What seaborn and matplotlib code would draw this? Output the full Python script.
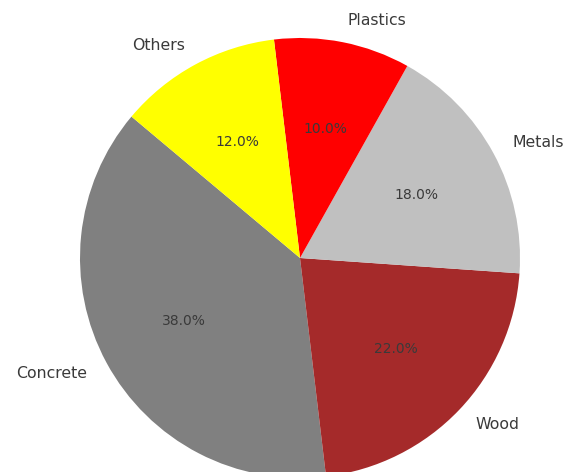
import matplotlib
matplotlib.use("Agg")
import matplotlib.pyplot as plt
import seaborn as sns

materials = ["Concrete", "Wood", "Metals", "Plastics", "Others"]
shares = [38, 22, 18, 10, 12]
colors = ["#808080", "#A52A2A", "#C0C0C0", "#FF0000", "#FFFF00"]

sns.set_theme(style="white")
plt.rcParams["font.family"] = ["DejaVu Sans"]

fig = plt.figure(figsize=(5.66, 4.72), dpi=100)
ax = fig.add_axes([0, 0, 1, 1])
wedges, texts, autotexts = ax.pie(
    shares, labels=materials, colors=colors, autopct="%1.1f%%",
    startangle=140, radius=1.0,
    wedgeprops={"linewidth": 0, "edgecolor": "none"},
    textprops={"color": "#3a3a3a"},
)
for t in texts:
    t.set_fontsize(11.3)
for t in autotexts:
    t.set_fontsize(10)
ax.set_aspect("auto")
ax.set_xlim(-300 / 220, 266 / 220)
ax.set_ylim(-214 / 220, 258 / 220)
ax.axis("off")
fig.savefig("out.png", dpi=100)
